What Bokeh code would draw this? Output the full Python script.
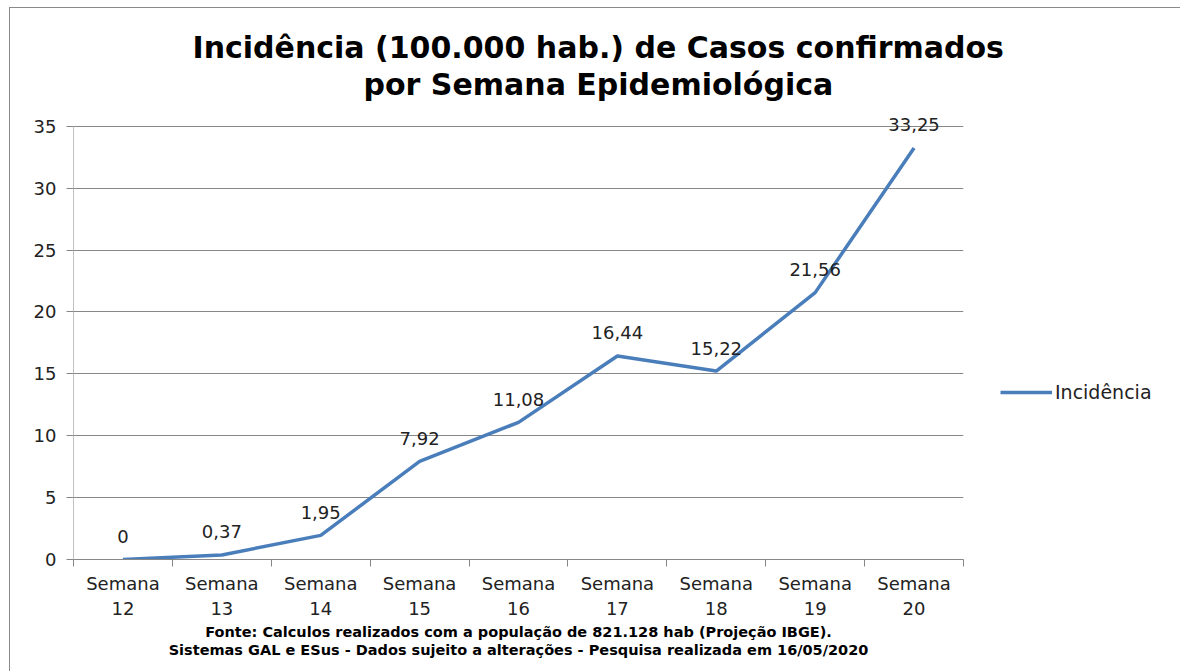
from bokeh.plotting import figure
from bokeh.models import (Range1d, FixedTicker, Legend, LegendItem, Title,
                          ColumnDataSource, LabelSet)
from bokeh.core.properties import value
from bokeh.embed import file_html
from bokeh.resources import INLINE

weeks = ["12", "13", "14", "15", "16", "17", "18", "19", "20"]
incidence = [0, 0.37, 1.95, 7.92, 11.08, 16.44, 15.22, 21.56, 33.25]
y_ticks = [0, 5, 10, 15, 20, 25, 30, 35]
title_lines = ["Incidência (100.000 hab.) de Casos confirmados",
               "por Semana Epidemiológica"]
footer_lines = ["Fonte: Calculos realizados com a população de 821.128 hab (Projeção IBGE).",
                "Sistemas GAL e ESus - Dados sujeito a alterações - Pesquisa realizada em 16/05/2020"]
series_name = "Incidência"

FONT = "DejaVu Sans"
GRID = "#878787"
BLUE = "#4A7EBB"
TXT = "#222222"

xs = list(range(1, len(weeks) + 1))
labels = [("%.2f" % v).replace(".", ",") if v != 0 else "0" for v in incidence]
src = ColumnDataSource(dict(x=xs, y=incidence, lab=labels))

y_top = y_ticks[-1]
y_end = 37.0

p = figure(frame_width=890, frame_height=458, output_backend="svg", toolbar_location=None,
           x_range=Range1d(0.5, len(weeks) + 0.5), y_range=Range1d(0, y_end),
           min_border_left=63, min_border_right=217, min_border_top=93,
           min_border_bottom=112)
p.outline_line_color = None
p.background_fill_color = "white"
p.border_fill_color = "white"
p.styles = {"margin-left": "9px", "margin-top": "7px",
            "border-left": "1px solid #8a8a8a", "border-top": "1px solid #8a8a8a"}

# x axis: labels at centres, tick marks at boundaries (minor ticks)
xa = p.xaxis[0]
xa.ticker = FixedTicker(ticks=xs, minor_ticks=[i + 0.5 for i in range(0, len(weeks) + 1)])
xa.major_label_overrides = {i: "Semana\n" + w for i, w in zip(xs, weeks)}
xa.major_tick_line_color = None
xa.minor_tick_line_color = GRID
xa.minor_tick_out = 7
xa.minor_tick_in = 0
xa.axis_line_color = GRID
xa.major_label_text_font = FONT
xa.major_label_text_font_size = "18px"
xa.major_label_text_color = TXT
xa.major_label_standoff = 6

ya = p.yaxis[0]
ya.ticker = FixedTicker(ticks=y_ticks)
ya.minor_tick_line_color = None
ya.major_tick_line_color = GRID
ya.major_tick_out = 7
ya.major_tick_in = 0
ya.axis_line_color = None
ya.major_label_text_font = FONT
ya.major_label_text_font_size = "18px"
ya.major_label_text_color = TXT
ya.major_label_standoff = 10

p.xgrid.grid_line_color = None
p.ygrid.grid_line_color = GRID
p.ygrid.grid_line_width = 1

# y axis line only up to the top tick
p.segment(x0=[0.5], y0=[0], x1=[0.5], y1=[y_top], line_color=GRID, line_width=1)

r = p.line("x", "y", source=src, line_color=BLUE, line_width=3.5)

ls = LabelSet(x="x", y="y", text="lab", source=src, y_offset=23,
              text_align="center", text_baseline="middle",
              text_font=value(FONT), text_font_size=value("18px"),
              text_color=TXT)
p.add_layout(ls)

leg = Legend(items=[LegendItem(label=series_name, renderers=[r])],
             location=(37, 156), border_line_color=None,
             background_fill_alpha=0, padding=0, margin=0,
             glyph_width=52, label_standoff=3,
             label_text_font=FONT, label_text_font_size="19px",
             label_text_color=TXT)
p.add_layout(leg, "right")

# titles (first added is closest to the frame)
t2 = Title(text=title_lines[1], align="left", offset=290,
           text_font=FONT, text_font_size="30px", text_font_style="bold",
           text_color="black", standoff=0)
t1 = Title(text=title_lines[0], align="left", offset=119,
           text_font=FONT, text_font_size="30px", text_font_style="bold",
           text_color="black", standoff=0)
p.add_layout(t2, "above")
p.add_layout(t1, "above")

f1 = Title(text=footer_lines[0], align="center",
           text_font=FONT, text_font_size="14.5px", text_font_style="bold",
           text_color="black", standoff=0)
f2 = Title(text=footer_lines[1], align="center",
           text_font=FONT, text_font_size="14.5px", text_font_style="bold",
           text_color="black", standoff=0)
p.add_layout(f1, "below")
p.add_layout(f2, "below")

open("out.html", "w").write(file_html(p, INLINE))
